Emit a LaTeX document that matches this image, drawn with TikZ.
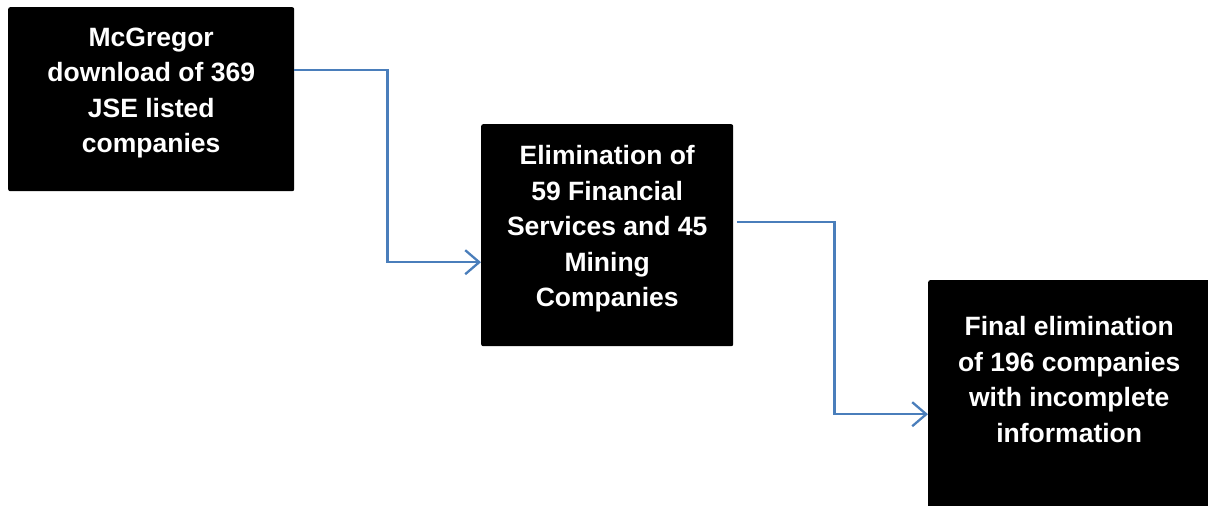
\documentclass[tikz,border=0pt]{standalone}
\usepackage{fontspec}
\setmainfont{Liberation Sans}
\usetikzlibrary{arrows.meta}
\definecolor{linkblue}{RGB}{74,126,187}
\tikzset{
  stage/.style={rectangle, rounded corners=2pt, fill=black, text=white,
    font=\bfseries\fontsize{26.5}{35.5}\selectfont, align=center,
    anchor=north west, inner sep=0pt, text depth=18pt},
  link/.style={draw=linkblue, line width=2.3pt,
    -{Straight Barb[length=14pt,width=24pt]}}
}
\begin{document}
\begin{tikzpicture}[x=1pt, y=-1pt]
\useasboundingbox (0,0) rectangle (1208,506);

\node[stage, minimum width=286pt, minimum height=184pt] (mcgregor) at (8,7)
  {McGregor\\download of 369\\JSE listed\\companies};

\node[stage, minimum width=252pt, minimum height=222pt] (elim) at (481,124)
  {Elimination of\\59 Financial\\Services and 45\\Mining\\Companies};

\node[stage, minimum width=282pt, minimum height=230pt, text depth=32pt] (final) at (928,280)
  {Final elimination\\of 196 companies\\with incomplete\\information};

% elbow links
\draw[link] ([yshift=29pt]mcgregor.east) -- ++(93,0) |- ([yshift=-27pt]elim.west);
\draw[link] ([xshift=4pt,yshift=13pt]elim.east) -- ++(97,0) |- ([yshift=-19pt]final.west);

\end{tikzpicture}
\end{document}
